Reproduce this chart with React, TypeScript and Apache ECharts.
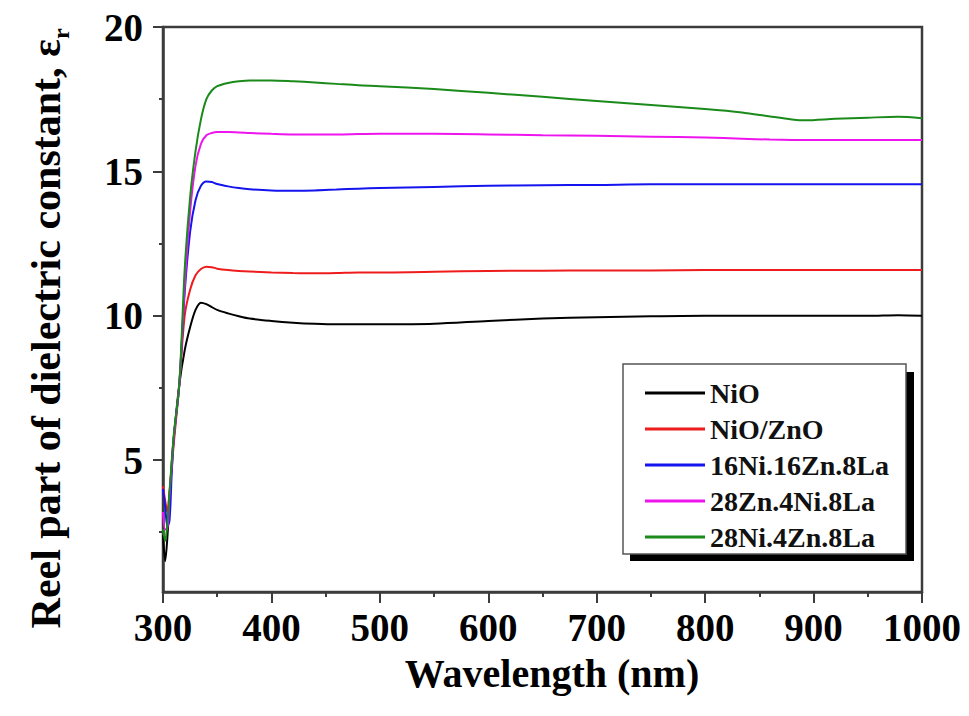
import React, { useEffect, useRef } from "react";
import * as echarts from "echarts";

const wavelength = [300, 302, 304, 306, 308, 310, 315, 320, 325, 330, 335, 340, 345, 350, 360, 370, 380, 400, 420, 440, 460, 480, 500, 550, 600, 650, 700, 750, 800, 834, 860, 880, 892, 920, 950, 978, 1000];

const nio = [2.4, 1.5, 2.3, 3.6, 4.9, 5.8, 7.6, 8.8, 9.6, 10.2, 10.45, 10.4, 10.3, 10.2, 10.08, 9.98, 9.9, 9.82, 9.76, 9.72, 9.7, 9.7, 9.7, 9.72, 9.82, 9.9, 9.95, 9.98, 10.0, 10.0, 10.0, 10.0, 10.0, 10.0, 10.0, 10.02, 10.0];
const nioZno = [4.1, 3.6, 3.2, 3.9, 4.7, 5.6, 7.6, 10.0, 10.9, 11.4, 11.62, 11.7, 11.68, 11.63, 11.58, 11.55, 11.53, 11.5, 11.48, 11.47, 11.48, 11.5, 11.5, 11.52, 11.55, 11.56, 11.57, 11.57, 11.58, 11.58, 11.58, 11.58, 11.58, 11.58, 11.58, 11.58, 11.58];
const ni16zn16la8 = [4.0, 3.4, 2.7, 2.9, 4.5, 5.8, 7.6, 10.8, 12.9, 14.0, 14.5, 14.65, 14.63, 14.56, 14.48, 14.42, 14.38, 14.34, 14.33, 14.34, 14.37, 14.4, 14.42, 14.46, 14.5, 14.52, 14.53, 14.55, 14.55, 14.55, 14.55, 14.55, 14.55, 14.55, 14.55, 14.55, 14.55];
const zn28ni4la8 = [3.2, 2.6, 2.6, 3.8, 4.8, 5.8, 7.6, 11.0, 13.6, 15.2, 15.95, 16.25, 16.33, 16.36, 16.36, 16.35, 16.33, 16.3, 16.28, 16.28, 16.28, 16.29, 16.3, 16.3, 16.28, 16.25, 16.23, 16.2, 16.17, 16.13, 16.1, 16.09, 16.09, 16.09, 16.09, 16.09, 16.09];
const ni28zn4la8 = [2.6, 2.2, 2.8, 3.9, 4.9, 5.9, 7.6, 11.6, 14.1, 15.7, 16.8, 17.5, 17.8, 17.95, 18.06, 18.12, 18.15, 18.15, 18.12, 18.08, 18.03, 17.98, 17.95, 17.85, 17.72, 17.58, 17.44, 17.3, 17.16, 17.04, 16.9, 16.8, 16.77, 16.82, 16.86, 16.89, 16.84];

const seriesNames = ["NiO", "NiO/ZnO", "16Ni.16Zn.8La", "28Zn.4Ni.8La", "28Ni.4Zn.8La"];
const seriesValues = [nio, nioZno, ni16zn16la8, zn28ni4la8, ni28zn4la8];
const seriesColors = ["#000000", "#ee1c1c", "#1414ee", "#ee14ee", "#1a8a1a"];

const yLabelValues = [5, 10, 15, 20];
const yMinorValues = [2.5, 7.5, 12.5, 17.5];

const xTitle = "Wavelength (nm)";
const yTitle = "Reel part of dielectric constant, ε";
const yTitleSub = "r";

const FONT = "Liberation Serif";
const AXIS_COLOR = "#3c3c3c";

export default function App() {
  const ref = useRef<HTMLDivElement>(null);

  useEffect(() => {
    document.body.style.margin = "0";
    if (!ref.current) return;
    const chart = echarts.init(ref.current, null, { renderer: "svg" });

    const series = seriesNames.map((name, i) => ({
      name,
      type: "line",
      showSymbol: false,
      symbol: "none",
      smooth: 0.3,
      data: wavelength.map((w, j) => [w, seriesValues[i][j]]),
      lineStyle: { color: seriesColors[i], width: 2 },
      itemStyle: { color: seriesColors[i] },
      z: 2,
    }));

    chart.setOption({
      animation: false,
      backgroundColor: "#ffffff",
      grid: {
        left: 163,
        right: 47,
        top: 27,
        bottom: 124,
        show: true,
        borderColor: AXIS_COLOR,
        borderWidth: 2.5,
        backgroundColor: "transparent",
        containLabel: false,
        outerBoundsMode: "none",
      },
      xAxis: {
        type: "value",
        min: 300,
        max: 1000,
        interval: 100,
        splitLine: { show: false },
        axisLine: { show: true, lineStyle: { color: AXIS_COLOR, width: 2.5 } },
        axisTick: { show: true, inside: false, length: 11, lineStyle: { color: AXIS_COLOR, width: 2 } },
        minorTick: { show: true, splitNumber: 2, length: 5, lineStyle: { color: AXIS_COLOR, width: 2 } },
        axisLabel: {
          margin: 16,
          color: "#000",
          fontFamily: FONT,
          fontWeight: "bold",
          fontSize: 39,
          formatter: (v: number) => String(v),
        },
      },
      yAxis: [
        {
          type: "value",
          min: 0.43,
          max: 20,
          splitLine: { show: false },
          axisLine: { show: true, lineStyle: { color: AXIS_COLOR, width: 2.5 } },
          axisTick: { show: true, inside: false, length: 10, customValues: yLabelValues, lineStyle: { color: AXIS_COLOR, width: 2 } },
          axisLabel: {
            customValues: yLabelValues,
            margin: 20,
            color: "#000",
            fontFamily: FONT,
            fontWeight: "bold",
            fontSize: 39,
            formatter: (v: number) => String(v),
          },
        },
        {
          type: "value",
          min: 0.43,
          max: 20,
          position: "left",
          splitLine: { show: false },
          axisLine: { show: false },
          axisTick: { show: true, inside: false, length: 4, customValues: yMinorValues, lineStyle: { color: AXIS_COLOR, width: 2 } },
          axisLabel: { show: false },
        },
      ],
      legend: {
        orient: "vertical",
        left: 645,
        top: 379,
        padding: 0,
        itemWidth: 60,
        itemHeight: 3,
        itemGap: 8,
        icon: "rect",
        z: 20,
        data: seriesNames,
        textStyle: {
          fontFamily: FONT,
          fontWeight: "bold",
          fontSize: 28,
          color: "#111",
        },
      },
      graphic: [
        {
          type: "rect",
          z: 10,
          silent: true,
          shape: { x: 630, y: 372, width: 284, height: 189 },
          style: { fill: "#000" },
        },
        {
          type: "rect",
          z: 11,
          silent: true,
          shape: { x: 623, y: 364, width: 283, height: 190 },
          style: { fill: "#fff", stroke: "#555", lineWidth: 1.5 },
        },
        {
          type: "text",
          z: 12,
          x: 552,
          y: 673,
          style: {
            text: xTitle,
            fontFamily: FONT,
            fontWeight: "bold",
            fontSize: 40,
            fill: "#000",
            align: "center",
            verticalAlign: "middle",
          },
        },
        {
          type: "text",
          z: 12,
          x: 46,
          y: 39,
          rotation: Math.PI / 2,
          style: {
            text: yTitle,
            align: "right",
            verticalAlign: "middle",
            fill: "#000",
            fontFamily: FONT,
            fontWeight: "bold",
            fontSize: 42,
          },
        },
        {
          type: "text",
          z: 12,
          x: 61,
          y: 39,
          rotation: Math.PI / 2,
          style: {
            text: yTitleSub,
            align: "left",
            verticalAlign: "middle",
            fill: "#000",
            fontFamily: FONT,
            fontWeight: "bold",
            fontSize: 24,
          },
        },
      ],
      series,
    });

    return () => chart.dispose();
  }, []);

  return <div ref={ref} style={{ width: 969, height: 716 }} />;
}
